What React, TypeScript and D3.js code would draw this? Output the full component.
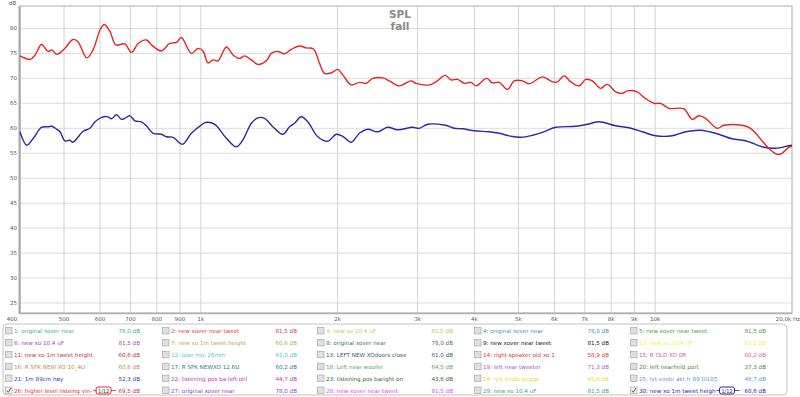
import React, { useEffect, useRef } from 'react';
import * as d3 from 'd3';

const redFreq = [400, 404, 421, 432, 446, 461, 470, 482, 502, 523, 536, 561, 579, 600, 613, 631, 650, 680, 704, 728, 759, 779, 819, 854, 884, 906, 953, 986, 1011, 1037, 1064, 1091, 1138, 1177, 1217, 1249, 1292, 1335, 1393, 1429, 1478, 1528, 1581, 1649, 1706, 1770, 1825, 1871, 1936, 2002, 2053, 2142, 2234, 2311, 2389, 2513, 2600, 2735, 2902, 2976, 3183, 3293, 3452, 3553, 3674, 3800, 3931, 4032, 4254, 4385, 4536, 4731, 4894, 5104, 5280, 5648, 5940, 6093, 6303, 6520, 6799, 7034, 7272, 7497, 7588, 7846, 8186, 8464, 8681, 9131, 9446, 9936, 10279, 10720, 11565, 12061, 12476, 12906, 13686, 14158, 15532, 16206, 17778, 18538, 19014, 19669, 20000];
const redDb = [74.5, 74.3, 73.8, 74.7, 76.8, 75.4, 75.7, 74.8, 76.0, 77.8, 77.4, 74.1, 75.7, 79.7, 80.8, 79.4, 76.7, 76.9, 75.2, 77.0, 77.7, 76.7, 75.5, 77.0, 77.2, 78.2, 75.0, 76.0, 75.5, 73.1, 73.7, 73.5, 76.3, 74.7, 74.0, 74.5, 73.7, 72.8, 73.5, 75.0, 75.4, 74.9, 75.8, 76.5, 76.1, 75.9, 73.0, 71.0, 71.1, 71.8, 70.7, 68.7, 69.2, 69.0, 70.0, 70.1, 69.5, 68.5, 69.5, 69.0, 68.7, 69.3, 70.6, 69.7, 69.8, 69.0, 69.2, 68.5, 70.0, 69.1, 69.2, 67.8, 69.5, 69.5, 68.9, 70.3, 69.3, 69.3, 70.5, 69.3, 68.5, 69.8, 69.5, 68.3, 68.0, 68.8, 67.3, 67.0, 67.5, 67.3, 66.2, 65.0, 65.0, 64.0, 63.9, 61.8, 62.5, 62.0, 60.0, 60.6, 60.6, 60.0, 56.0, 54.8, 55.0, 56.2, 56.4];

const blueFreq = [400, 414, 428, 446, 461, 470, 482, 490, 502, 515, 523, 551, 570, 585, 605, 625, 636, 652, 669, 680, 698, 716, 740, 759, 785, 819, 840, 869, 911, 953, 1000, 1029, 1073, 1138, 1197, 1238, 1292, 1335, 1381, 1441, 1515, 1568, 1608, 1663, 1720, 1809, 1903, 1986, 2053, 2142, 2234, 2330, 2450, 2578, 2712, 2925, 3026, 3156, 3452, 3612, 3767, 3997, 4312, 4536, 4813, 5062, 5369, 5648, 6043, 6687, 7090, 7523, 8186, 8756, 9366, 10022, 10900, 11665, 12583, 13686, 14767, 15803, 17336, 18394, 19669, 20000];
const blueDb = [59.3, 56.6, 58.0, 60.2, 60.3, 60.4, 59.8, 59.3, 57.5, 57.6, 57.2, 59.4, 60.0, 61.3, 62.2, 62.3, 61.9, 62.7, 61.8, 62.0, 62.5, 61.5, 61.3, 60.5, 59.0, 58.8, 58.3, 58.2, 56.8, 59.0, 60.6, 61.2, 60.8, 58.0, 56.3, 57.7, 61.0, 62.1, 62.0, 60.3, 58.8, 60.3, 61.0, 62.3, 61.3, 58.3, 57.4, 58.8, 58.4, 57.2, 59.0, 59.8, 59.3, 60.2, 59.7, 60.2, 60.0, 60.8, 60.6, 60.0, 59.9, 59.5, 59.3, 59.0, 58.4, 58.2, 58.6, 59.2, 60.2, 60.4, 60.8, 61.3, 60.5, 60.1, 59.3, 58.5, 58.5, 59.3, 59.6, 58.9, 57.9, 57.5, 56.2, 56.0, 56.5, 56.6];

const yTicks = [25, 30, 35, 40, 45, 50, 55, 60, 65, 70, 75, 80];
const xTicks = [400, 500, 600, 700, 800, 900, 1000, 2000, 3000, 4000, 5000, 6000, 7000, 8000, 9000, 10000, 20000];
const xTickLabels = ['400', '500', '600', '700', '800', '900', '1k', '2k', '3k', '4k', '5k', '6k', '7k', '8k', '9k', '10k', '20,0k Hz'];

const legendLabels = [
  '1: original xover near', '2: new xover near tweet', '3: new xo 10.4 uF', '4: original xover near', '5: new xover near tweet',
  '6: new xo 10.4 uF', '7: new xo 1m tweet height', '8: original xover near', '9: new xover near tweet', '10: new xo 10.4 uF',
  '11: new xo 1m tweet height', '12: lowr mic 26mm', '13: LEFT NEW XOdoors close', '14: right speaker old xo 1', '15: R OLD XO 0R',
  '16: R SPK NEW XO 10_4U', '17: R SPK NEWXO 12.6U', '18: Left near woofer', '19: left near tweeter', '20: left nearfield port',
  '21: 1m 89cm høy', '22: listening pos ba left onl', '23: listening pos baright on', '24: lytt vindu begge', '25: lyt vindu akt fr 89 til105',
  '26: higher level listeing vin-', '27: original xover near', '28: new xover near tweet', '29: new xo 10.4 uF', '30: new xo 1m tweet heigh',
];
const legendValues = [
  '78,0 dB', '81,5 dB', '81,5 dB', '78,0 dB', '81,5 dB',
  '81,5 dB', '60,6 dB', '78,0 dB', '81,5 dB', '81,5 dB',
  '60,6 dB', '61,0 dB', '61,0 dB', '58,9 dB', '60,2 dB',
  '60,6 dB', '60,2 dB', '64,5 dB', '71,3 dB', '37,3 dB',
  '52,3 dB', '44,7 dB', '43,6 dB', '45,9 dB', '46,7 dB',
  '69,5 dB', '78,0 dB', '81,5 dB', '81,5 dB', '60,6 dB',
];
const legendColors = [
  '#3cb878', '#d84040', '#c8c848', '#4890b8', '#40a040',
  '#9848b8', '#c0a848', '#407070', '#202020', '#f0f050',
  '#b83838', '#48c8d8', '#405868', '#d03838', '#d060a8',
  '#b89048', '#307888', '#58a858', '#a058c8', '#488838',
  '#3040a8', '#b838b8', '#406820', '#e8dc30', '#5898c8',
  '#d83030', '#8848b8', '#e848e8', '#38a868', '#2828a0',
];
const legendChecked = [26, 30];

const App: React.FC = () => {
  const svgRef = useRef<SVGSVGElement>(null);

  useEffect(() => {
    if (!svgRef.current) return;
    const svg = d3.select(svgRef.current);
    svg.selectAll('*').remove();

    const font = '"DejaVu Sans", sans-serif';
    const left = 20, right = 792, top = 6, bottom = 313;
    const x = d3.scaleLog().domain([400, 20000]).range([left, right]);
    const y = d3.scaleLinear().domain([23, 84.5]).range([bottom, top]);

    svg.append('rect').attr('width', 800).attr('height', 397).attr('fill', '#fff');

    // grid
    svg.append('g').selectAll('line').data(yTicks).join('line')
      .attr('x1', left).attr('x2', right)
      .attr('y1', d => y(d)).attr('y2', d => y(d))
      .attr('stroke', '#dcdcdc').attr('stroke-width', 1);
    svg.append('g').selectAll('line').data(xTicks.slice(1, -1)).join('line')
      .attr('x1', d => x(d)).attr('x2', d => x(d))
      .attr('y1', top).attr('y2', bottom)
      .attr('stroke', '#d4d4d4').attr('stroke-width', 1);

    // frame
    svg.append('rect').attr('x', left).attr('y', top)
      .attr('width', right - left).attr('height', bottom - top)
      .attr('fill', 'none').attr('stroke', '#c8c8c8').attr('stroke-width', 1.5);
    svg.append('line').attr('x1', left - 0.5).attr('x2', left - 0.5).attr('y1', top).attr('y2', bottom + 1)
      .attr('stroke', '#a8a8a8').attr('stroke-width', 2);
    svg.append('line').attr('x1', left).attr('x2', right).attr('y1', bottom + 0.5).attr('y2', bottom + 0.5)
      .attr('stroke', '#b0b0b0').attr('stroke-width', 1.5);

    // axis labels
    const txt = svg.append('g').attr('font-family', font).attr('fill', '#555').attr('font-size', 5.5);
    txt.selectAll('text.y').data(yTicks).join('text').attr('class', 'y')
      .attr('x', 17).attr('y', d => y(d) + 2).attr('text-anchor', 'end').text(d => d);
    txt.append('text').attr('x', 9).attr('y', 5).text('dB');
    txt.selectAll('text.x').data(xTicks).join('text').attr('class', 'x')
      .attr('x', (d, i) => i === 0 ? 12 : i === xTicks.length - 1 ? 800 : x(d))
      .attr('y', 321)
      .attr('text-anchor', (d, i) => i === 0 ? 'middle' : i === xTicks.length - 1 ? 'end' : 'middle')
      .text((d, i) => xTickLabels[i]);

    // title
    const title = svg.append('g').attr('font-family', font).attr('fill', '#8a8a8a')
      .attr('font-size', 10.5).attr('font-weight', 'bold').attr('text-anchor', 'middle');
    title.append('text').attr('x', 400).attr('y', 18).text('SPL');
    title.append('text').attr('x', 400).attr('y', 29.5).text('fall');

    // curves
    const line = d3.line<[number, number]>()
      .x(d => x(d[0])).y(d => y(d[1]))
      .curve(d3.curveCatmullRom.alpha(0.5));
    svg.append('path').datum(blueFreq.map((f, i) => [f, blueDb[i]] as [number, number]))
      .attr('d', line).attr('fill', 'none').attr('stroke', '#2a2aa0').attr('stroke-width', 1.4);
    svg.append('path').datum(redFreq.map((f, i) => [f, redDb[i]] as [number, number]))
      .attr('d', line).attr('fill', 'none').attr('stroke', '#e42525').attr('stroke-width', 1.4);

    // legend panel
    svg.append('rect').attr('x', 3).attr('y', 324).attr('width', 784).attr('height', 71).attr('rx', 4)
      .attr('fill', '#fff').attr('stroke', '#c4c4c4').attr('stroke-width', 1);

    const colX = [5, 162, 317, 474, 630];
    const valRight = [140, 297, 453, 609, 766];
    const rowY = (r: number) => 331 + r * 11.9;

    const items = svg.append('g').attr('font-family', font).attr('font-size', 5.6);
    legendLabels.forEach((label, i) => {
      const r = Math.floor(i / 5), c = i % 5;
      const cy = rowY(r);
      const g = items.append('g');
      const checked = legendChecked.includes(i + 1);
      g.append('rect').attr('x', colX[c] + 0.5).attr('y', cy - 3.5).attr('width', 6.5).attr('height', 6.5)
        .attr('fill', checked ? '#f4f4f4' : '#e0e0e0').attr('stroke', '#a8a8a8').attr('stroke-width', 0.7);
      if (checked) {
        g.append('path').attr('d', `M${colX[c] + 1.8},${cy} L${colX[c] + 3.3},${cy + 1.8} L${colX[c] + 6},${cy - 2.5}`)
          .attr('fill', 'none').attr('stroke', '#333').attr('stroke-width', 0.8);
      }
      const t = g.append('text').attr('x', colX[c] + 9).attr('y', cy + 2).attr('fill', legendColors[i]).text(label);
      g.append('text').attr('x', valRight[c]).attr('y', cy + 2).attr('text-anchor', 'end')
        .attr('fill', legendColors[i]).text(legendValues[i]);
      if (checked) {
        const tw = (t.node() as SVGTextElement).getComputedTextLength();
        const bx = colX[c] + 9 + tw + 4;
        g.append('line').attr('x1', bx - 3).attr('x2', bx + 20).attr('y1', cy).attr('y2', cy)
          .attr('stroke', legendColors[i]).attr('stroke-width', 0.8);
        g.append('rect').attr('x', bx).attr('y', cy - 3.5).attr('width', 15).attr('height', 7).attr('rx', 2)
          .attr('fill', '#fff').attr('stroke', legendColors[i]).attr('stroke-width', 1);
        g.append('text').attr('x', bx + 7.5).attr('y', cy + 2).attr('text-anchor', 'middle')
          .attr('font-size', 5).attr('fill', '#333').text('1/12');
      }
    });
  }, []);

  return <svg ref={svgRef} width={800} height={397} style={{ position: 'absolute', left: 0, top: 0 }} />;
};

export default App;
